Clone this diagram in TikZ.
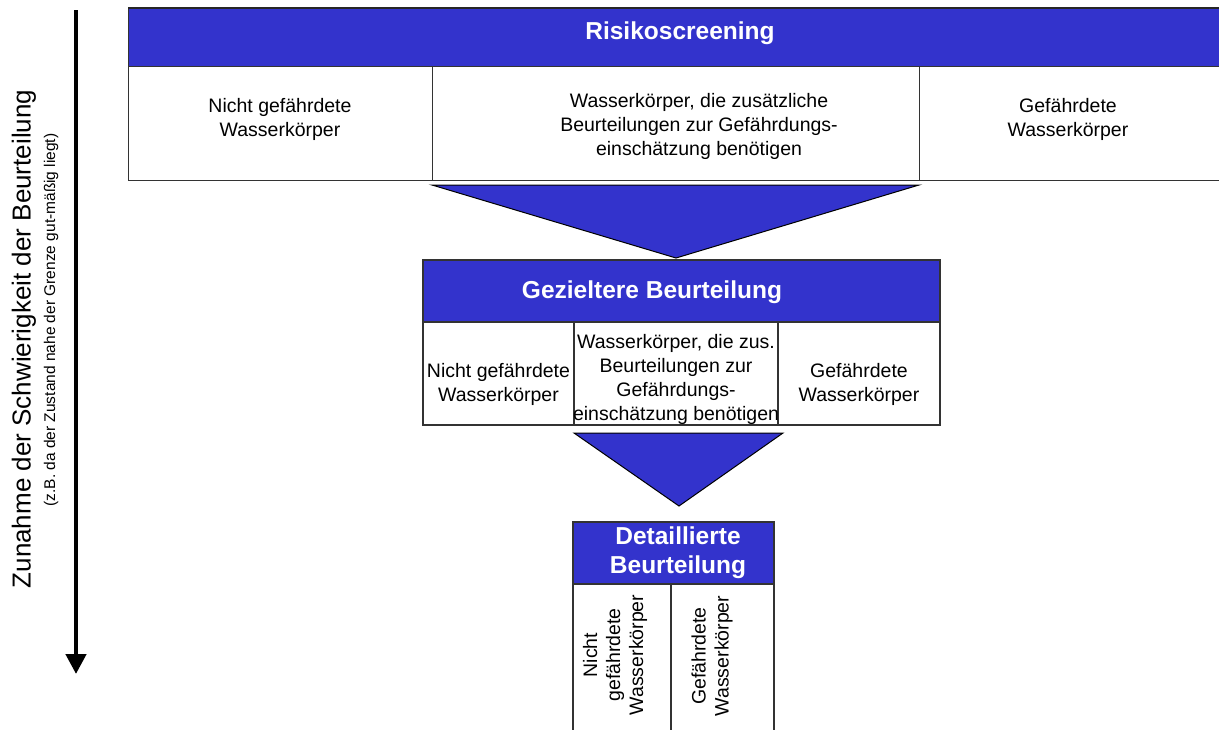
\documentclass[tikz,border=0pt]{standalone}
\usepackage{fontspec}
\setmainfont{Liberation Sans}
\usetikzlibrary{arrows.meta}
\definecolor{hdrblue}{RGB}{51,51,204}
\begin{document}
\begin{tikzpicture}[x=1pt,y=-1pt,
  box/.style={inner sep=0pt,outer sep=0pt,anchor=north west},
  cell/.style={box,draw=black!80,line width=1pt,fill=white},
  hdr/.style={box,draw=black!80,line width=1pt,fill=hdrblue},
  hdrtxt/.style={text=white,font=\fontsize{24.5}{29}\selectfont\bfseries,align=center,inner sep=0pt},
  celltxt/.style={font=\fontsize{19.5}{24}\selectfont,align=center,inner sep=0pt},
  funnel/.style={draw=black,line width=1pt,fill=hdrblue,line join=miter}]
\useasboundingbox (0,0) rectangle (1219,729);

% side arrow with its caption
\coordinate (atop) at (76,10);
\coordinate (abot) at (76,674);
\draw[line width=4.5pt,-{Triangle[length=20pt,width=20pt]}] (atop) -- (abot);
\node[rotate=90,inner sep=0pt,font=\fontsize{26}{30}\selectfont] (axis) at (24,339)
  {Zunahme der Schwierigkeit der Beurteilung};
\node[rotate=90,inner sep=0pt,font=\fontsize{15.5}{18}\selectfont] (axisnote) at (51,320)
  {(z.B. da der Zustand nahe der Grenze gut-mäßig liegt)};

% stage 1: Risikoscreening
\node[hdr,minimum width=1110,minimum height=58] (rs) at (128,8) {};
\draw[line width=2.5pt,black!85] (rs.north west) -- (rs.north east);
\node[cell,minimum width=304,minimum height=114] (rs1) at (128,66) {};
\node[cell,minimum width=487,minimum height=114] (rs2) at (432,66) {};
\node[cell,minimum width=320,minimum height=114] (rs3) at (919,66) {};
\node[hdrtxt] (rst) at (680,33) {Risikoscreening};
\node[celltxt] (rs1t) at (280,119) {Nicht gefährdete\\Wasserkörper};
\node[celltxt] (rs2t) at (699,126) {Wasserkörper, die zusätzliche\\Beurteilungen zur Gefährdungs-\\einschätzung benötigen};
\node[celltxt] (rs3t) at (1068,119) {Gefährdete\\Wasserkörper};

% funnel 1
\coordinate (f1a) at (432,185);
\coordinate (f1b) at (919,185);
\coordinate (f1c) at (676,258);
\draw[funnel] (f1a) -- (f1b) -- (f1c) -- cycle;

% stage 2: Gezieltere Beurteilung
\node[hdr,line width=1.5pt,minimum width=517,minimum height=62] (gb) at (423,260) {};
\node[cell,line width=1.5pt,minimum width=151,minimum height=103] (gb1) at (423,322) {};
\node[cell,line width=1.5pt,minimum width=204,minimum height=103] (gb2) at (574,322) {};
\node[cell,line width=1.5pt,minimum width=162,minimum height=103] (gb3) at (778,322) {};
\node[hdrtxt] (gbt) at (652,292) {Gezieltere Beurteilung};
\node[celltxt] (gb1t) at (498.5,384) {Nicht gefährdete\\Wasserkörper};
\node[celltxt] (gb2t) at (676,379) {Wasserkörper, die zus.\\Beurteilungen zur\\Gefährdungs-\\einschätzung benötigen};
\node[celltxt] (gb3t) at (859,384) {Gefährdete\\Wasserkörper};

% funnel 2
\coordinate (f2a) at (574,433);
\coordinate (f2b) at (783,433);
\coordinate (f2c) at (679,506);
\draw[funnel] (f2a) -- (f2b) -- (f2c) -- cycle;

% stage 3: Detaillierte Beurteilung
\node[hdr,line width=1.5pt,minimum width=201,minimum height=62] (db) at (573,522) {};
\node[cell,line width=1.5pt,minimum width=98,minimum height=170] (db1) at (573,584) {};
\node[cell,line width=1.5pt,minimum width=103,minimum height=170] (db2) at (671,584) {};
\node[hdrtxt] (dbt) at (678,553) {Detaillierte\\Beurteilung};
\node[celltxt,rotate=90,font=\fontsize{19.5}{23}\selectfont] (db1t) at (615,655) {Nicht\\gefährdete\\Wasserkörper};
\node[celltxt,rotate=90,font=\fontsize{19.5}{23}\selectfont] (db2t) at (712,656) {Gefährdete\\Wasserkörper};
\end{tikzpicture}
\end{document}
